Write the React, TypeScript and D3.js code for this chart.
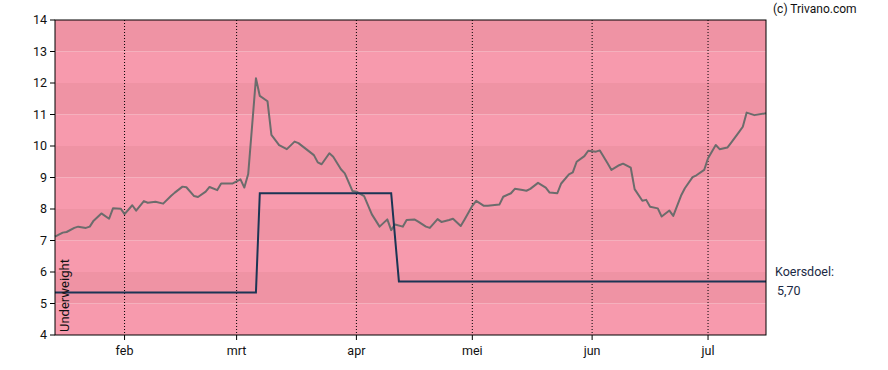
import * as d3 from 'd3'

// koers (closing price)
const priceDates = [
  '2024-01-14', '2024-01-16', '2024-01-17', '2024-01-19', '2024-01-20', '2024-01-22', '2024-01-23',
  '2024-01-24', '2024-01-26', '2024-01-28', '2024-01-29', '2024-01-31', '2024-02-01', '2024-02-03',
  '2024-02-04', '2024-02-06', '2024-02-07', '2024-02-09', '2024-02-11', '2024-02-13', '2024-02-14',
  '2024-02-16', '2024-02-17', '2024-02-19', '2024-02-20', '2024-02-22', '2024-02-23', '2024-02-25',
  '2024-02-26', '2024-02-29', '2024-03-02', '2024-03-03', '2024-03-04', '2024-03-06', '2024-03-07',
  '2024-03-09', '2024-03-10', '2024-03-12', '2024-03-14', '2024-03-16', '2024-03-17', '2024-03-19',
  '2024-03-21', '2024-03-22', '2024-03-23', '2024-03-25', '2024-03-26', '2024-03-28', '2024-03-29',
  '2024-03-31', '2024-04-01', '2024-04-03', '2024-04-05', '2024-04-07', '2024-04-09', '2024-04-10',
  '2024-04-11', '2024-04-13', '2024-04-14', '2024-04-16', '2024-04-17', '2024-04-19', '2024-04-20',
  '2024-04-22', '2024-04-23', '2024-04-25', '2024-04-26', '2024-04-28', '2024-04-29', '2024-05-01',
  '2024-05-02', '2024-05-04', '2024-05-05', '2024-05-08', '2024-05-09', '2024-05-11', '2024-05-12',
  '2024-05-14', '2024-05-15', '2024-05-16', '2024-05-18', '2024-05-20', '2024-05-21', '2024-05-23',
  '2024-05-24', '2024-05-26', '2024-05-27', '2024-05-28', '2024-05-30', '2024-05-31', '2024-06-02',
  '2024-06-03', '2024-06-05', '2024-06-06', '2024-06-08', '2024-06-09', '2024-06-11', '2024-06-12',
  '2024-06-14', '2024-06-15', '2024-06-16', '2024-06-18', '2024-06-19', '2024-06-21', '2024-06-22',
  '2024-06-24', '2024-06-25', '2024-06-27', '2024-06-28', '2024-06-30', '2024-07-01', '2024-07-03',
  '2024-07-04', '2024-07-06', '2024-07-07', '2024-07-09', '2024-07-10', '2024-07-11', '2024-07-13',
  '2024-07-16',
]
const priceValues = [
  7.12, 7.25, 7.27, 7.4, 7.44, 7.4, 7.44,
  7.63, 7.86, 7.69, 8.02, 8.01, 7.84, 8.12,
  7.95, 8.25, 8.2, 8.23, 8.17, 8.41, 8.52,
  8.71, 8.69, 8.41, 8.38, 8.55, 8.7, 8.6,
  8.81, 8.81, 8.94, 8.68, 9.11, 12.15, 11.59,
  11.42, 10.35, 10.03, 9.9, 10.14, 10.09, 9.9,
  9.71, 9.48, 9.42, 9.77, 9.66, 9.26, 9.13,
  8.57, 8.55, 8.41, 7.83, 7.44, 7.67, 7.33,
  7.51, 7.44, 7.65, 7.67, 7.6, 7.44, 7.4,
  7.68, 7.59, 7.65, 7.69, 7.46, 7.67, 8.1,
  8.26, 8.1, 8.1, 8.14, 8.39, 8.5, 8.64,
  8.6, 8.58, 8.64, 8.83, 8.68, 8.52, 8.5,
  8.81, 9.1, 9.16, 9.5, 9.68, 9.85, 9.82,
  9.86, 9.45, 9.24, 9.39, 9.44, 9.31, 8.63,
  8.26, 8.29, 8.07, 8.02, 7.76, 7.95, 7.78,
  8.42, 8.66, 9.01, 9.07, 9.24, 9.61, 10.03,
  9.9, 9.95, 10.11, 10.44, 10.61, 11.06, 10.98,
  11.04,
]

// koersdoel (price target)
const targetDates = ['2024-01-14', '2024-03-06', '2024-03-07', '2024-04-10', '2024-04-12', '2024-07-16']
const targetValues = [5.35, 5.35, 8.5, 8.5, 5.7, 5.7]

const yTicks = [4, 5, 6, 7, 8, 9, 10, 11, 12, 13, 14]
const monthDates = ['2024-02-01', '2024-03-01', '2024-04-01', '2024-05-01', '2024-06-01', '2024-07-01']
const monthLabels = ['feb', 'mrt', 'apr', 'mei', 'jun', 'jul']

const width = 888
const height = 370
const margin = { top: 20, right: 122, bottom: 35, left: 55 }
const font = 'Roboto, "Noto Sans", sans-serif'

export default function App() {
  const parse = d3.utcParse('%Y-%m-%d')
  const price = priceDates.map((d, i) => ({ date: parse(d) as Date, value: priceValues[i] }))
  const target = targetDates.map((d, i) => ({ date: parse(d) as Date, value: targetValues[i] }))
  const months = monthDates.map((d) => parse(d) as Date)

  const x = d3
    .scaleUtc()
    .domain([price[0].date, price[price.length - 1].date])
    .range([margin.left, width - margin.right])

  const y = d3
    .scaleLinear()
    .domain([4, 14])
    .range([height - margin.bottom, margin.top])

  const line = d3
    .line<{ date: Date; value: number }>()
    .x((d) => x(d.date))
    .y((d) => y(d.value))

  const bands = yTicks.slice(0, -1)
  const last = targetValues[targetValues.length - 1]

  return (
    <svg
      width={width}
      height={height}
      style={{ position: 'absolute', left: 0, top: 0, background: '#fff' }}
      fontFamily={font}
    >
      {bands.map((v) => (
        <rect
          key={v}
          x={margin.left}
          y={y(v + 1)}
          width={width - margin.right - margin.left}
          height={y(v) - y(v + 1)}
          fill={v % 2 === 1 ? '#ef93a4' : '#f79aad'}
        />
      ))}

      {months.map((m, i) => (
        <line
          key={monthLabels[i]}
          x1={x(m)}
          x2={x(m)}
          y1={margin.top}
          y2={height - margin.bottom}
          stroke="#000"
          strokeWidth={1}
          strokeDasharray="1,2"
        />
      ))}

      <path d={line(price) ?? ''} fill="none" stroke="#6c6c6c" strokeWidth={2} strokeLinejoin="round" />
      <path d={line(target) ?? ''} fill="none" stroke="#1b3554" strokeWidth={2} />

      <rect
        x={margin.left}
        y={margin.top}
        width={width - margin.right - margin.left}
        height={height - margin.bottom - margin.top}
        fill="none"
        stroke="#000"
        strokeWidth={1}
      />

      {yTicks.map((t) => (
        <g key={t}>
          <line x1={margin.left - 5} x2={margin.left} y1={y(t)} y2={y(t)} stroke="#000" />
          <text
            x={margin.left - 8}
            y={y(t)}
            dy="0.35em"
            textAnchor="end"
            fontSize={12.5}
            fill="#111"
          >
            {t}
          </text>
        </g>
      ))}

      {months.map((m, i) => (
        <g key={monthLabels[i]}>
          <line
            x1={x(m)}
            x2={x(m)}
            y1={height - margin.bottom}
            y2={height - margin.bottom + 5}
            stroke="#000"
          />
          <text x={x(m)} y={height - margin.bottom + 20} textAnchor="middle" fontSize={12.5} fill="#111">
            {monthLabels[i]}
          </text>
        </g>
      ))}

      <text
        transform={`translate(${margin.left + 14},${height - margin.bottom - 3}) rotate(-90)`}
        fontSize={13}
        fill="#111"
      >
        Underweight
      </text>

      <text x={width - margin.right + 9} y={y(last) - 5} fontSize={12.5} fill="#1b2a44">
        Koersdoel:
      </text>
      <text x={width - margin.right + 11} y={y(last) + 14} fontSize={12.5} fill="#1b2a44">
        {d3.format('.2f')(last).replace('.', ',')}
      </text>

      <text x={width - margin.right + 7} y={13} fontSize={12} fill="#111">
        (c) Trivano.com
      </text>
    </svg>
  )
}
